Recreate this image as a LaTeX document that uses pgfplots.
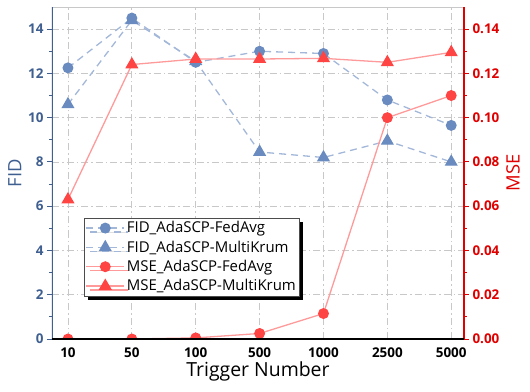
\documentclass[border=0pt]{standalone}
\usepackage{fontspec}
\setmainfont{Open Sans}
\usepackage{pgfplots}
\pgfplotsset{compat=1.18}
\usetikzlibrary{shadows}
\definecolor{fidblue}{HTML}{6A8BBF}
\definecolor{fidline}{HTML}{A3B7D9}
\definecolor{axblue}{HTML}{3F5F91}
\definecolor{msered}{HTML}{FF4444}
\definecolor{mseline}{HTML}{FF9A9A}
\definecolor{axred}{HTML}{E00000}
\definecolor{gridgray}{HTML}{C8C8C8}
\pgfplotsset{
  fidstyle/.style={fidline, line width=1.3bp, dash pattern=on 7bp off 5bp, mark options={solid, fill=fidblue, draw=fidblue}},
  msestyle/.style={mseline, line width=1.3bp, mark options={solid, fill=msered, draw=msered}},
  myleg/.style={legend image code/.code={\draw[mark repeat=2,mark phase=2] plot coordinates {(0bp,0bp)(19bp,0bp)(38bp,0bp)};}},
}
\begin{document}
\begin{tikzpicture}
\useasboundingbox (-52bp,-53bp) rectangle (478bp,339bp);
\begin{axis}[
  scale only axis, width=412bp, height=332bp,
  xmin=-0.25, xmax=6.2, ymin=0, ymax=15,
  xtick={0,...,6}, xticklabels={10,50,100,500,1000,2500,5000},
  ytick={0,2,4,6,8,10,12,14}, minor y tick num=1,
  ytick pos=left, xtick pos=bottom,
  tick align=outside,
  major x tick style={draw=none},
  y tick style={axblue, line width=1bp},
  major tick length=5bp, minor tick length=3bp,
  axis line style={gridgray, line width=0.8bp},
  grid=major, grid style={gridgray, line width=0.7bp, dash pattern=on 7bp off 3bp on 1.5bp off 3bp},
  /pgf/number format/assume math mode=true,
  xticklabel style={font=\bfseries\fontsize{13.5}{13.5}\selectfont, black},
  yticklabel style={font=\bfseries\fontsize{13.5}{13.5}\selectfont, axblue},
  ylabel={FID}, ylabel style={font=\fontsize{18.5}{18.5}\selectfont, axblue},
  xlabel={Trigger Number}, xlabel style={font=\fontsize{19.5}{19.5}\selectfont, black, yshift=3bp},
]
\addplot[fidstyle, mark=*, mark size=4.8bp] coordinates {(0,12.25)(1,14.5)(2,12.5)(3,13.0)(4,12.9)(5,10.8)(6,9.65)};
\addplot[fidstyle, mark=triangle*, mark size=6.3bp] coordinates {(0,10.6)(1,14.4)(2,12.55)(3,8.45)(4,8.2)(5,8.95)(6,8.0)};
\draw[axblue, line width=1.6bp] (rel axis cs:0,0) -- (rel axis cs:0,1);
\end{axis}
\begin{axis}[
  scale only axis, width=412bp, height=332bp,
  xmin=-0.25, xmax=6.2, ymin=0, ymax=0.15,
  axis x line=none, axis y line*=right,
  ytick={0,0.02,0.04,0.06,0.08,0.10,0.12,0.14}, minor y tick num=1,
  tick align=outside,
  y tick style={axred, line width=1bp},
  major tick length=5bp, minor tick length=3bp,
  y axis line style={axred, line width=1.6bp, -},
  clip mode=individual, clip marker paths=true,
  /pgf/number format/assume math mode=true,
  yticklabel style={font=\bfseries\fontsize{13.5}{13.5}\selectfont, axred, /pgf/number format/fixed, /pgf/number format/fixed zerofill, /pgf/number format/precision=2},
  ylabel={MSE}, ylabel style={font=\fontsize{18.5}{18.5}\selectfont, axred},
  myleg,
  legend cell align=left,
  legend style={at={(0.078,0.364)}, anchor=north west, draw=black!70, fill=white, font=\fontsize{15}{15}\selectfont,
    row sep=2.5bp, inner sep=1.5bp, outer sep=0pt,
    drop shadow={fill=black, opacity=1, shadow xshift=4bp, shadow yshift=-4bp}},
]
\addlegendimage{fidstyle, mark=*, mark size=4.8bp}
\addlegendentry{FID\_AdaSCP-FedAvg}
\addlegendimage{fidstyle, mark=triangle*, mark size=6.3bp}
\addlegendentry{FID\_AdaSCP-MultiKrum}
\addplot[msestyle, mark=*, mark size=4.8bp] coordinates {(0,0.0)(1,0.0)(2,0.0005)(3,0.0025)(4,0.0115)(5,0.100)(6,0.110)};
\addlegendentry{MSE\_AdaSCP-FedAvg}
\addplot[msestyle, mark=triangle*, mark size=6.3bp] coordinates {(0,0.063)(1,0.124)(2,0.1265)(3,0.1265)(4,0.1268)(5,0.125)(6,0.1295)};
\addlegendentry{MSE\_AdaSCP-MultiKrum}
\draw[black, line width=1.6bp] (rel axis cs:0,0) -- (rel axis cs:1,0);
\end{axis}
\end{tikzpicture}
\end{document}
